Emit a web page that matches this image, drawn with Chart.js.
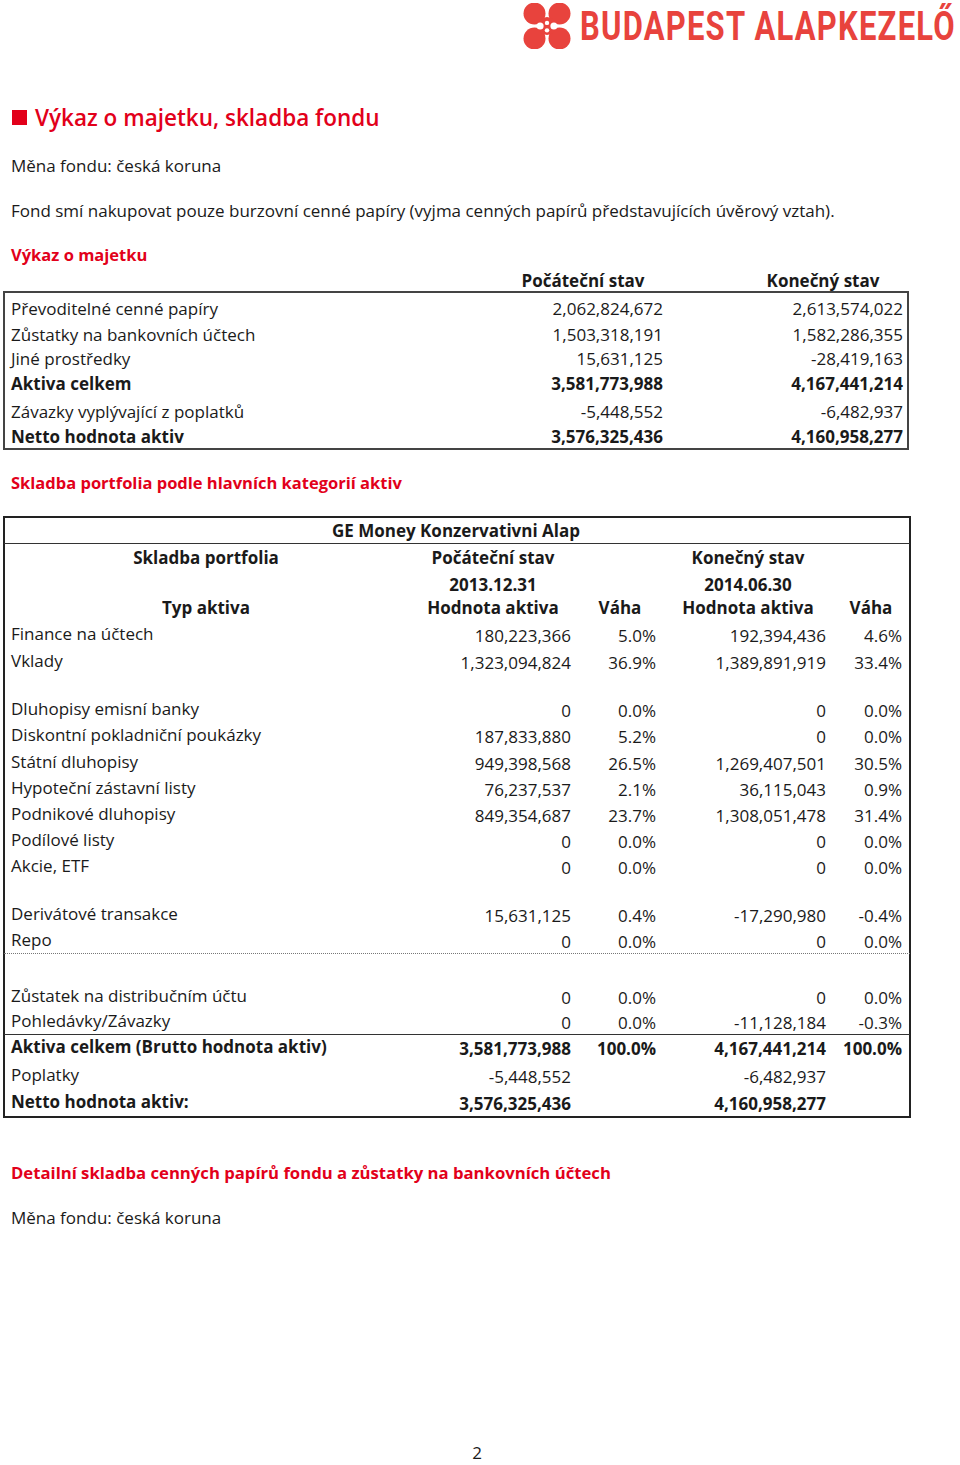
<!DOCTYPE html>
<html lang="cs">
<head>
<meta charset="utf-8">
<script src="https://cdn.jsdelivr.net/npm/chart.js@4.4.1/dist/chart.umd.min.js"></script>
<style>
body{margin:0;background:#fff;}
#page{position:relative;width:960px;height:1465px;font-family:"Open Sans",sans-serif;font-size:17px;color:#1a1a1a;overflow:hidden;}
.t{position:absolute;white-space:nowrap;line-height:20px;}
.b{font-weight:bold;}
.sb{font-weight:600;}
.red{color:#e2001a;}
.box{position:absolute;box-sizing:border-box;}
.hl{position:absolute;height:0;}
#logo{position:absolute;left:522px;top:3px;}
#brand{position:absolute;left:580px;top:6px;font-family:Roboto,sans-serif;font-weight:bold;font-size:31px;line-height:31px;
  color:#e8433d;white-space:nowrap;transform:scaleY(1.3);transform-origin:0 0;}
</style>
</head>
<body>
<div id="page">
  <canvas id="logo" width="50" height="46"></canvas>
  <div id="brand">BUDAPEST ALAPKEZELŐ</div>
</div>
<script>
// --- vykaz o majetku ---
const vykazLabels = ['Převoditelné cenné papíry', 'Zůstatky na bankovních účtech', 'Jiné prostředky',
    'Aktiva celkem', 'Závazky vyplývající z poplatků', 'Netto hodnota aktiv'];
const vykazStart = [2062824672, 1503318191, 15631125, 3581773988, -5448552, 3576325436];
const vykazEnd = [2613574022, 1582286355, -28419163, 4167441214, -6482937, 4160958277];

// --- skladba portfolia ---
const typAktiva = ['Finance na účtech', 'Vklady', 'Dluhopisy emisní banky', 'Diskontní pokladniční poukázky',
    'Státní dluhopisy', 'Hypoteční zástavní listy', 'Podnikové dluhopisy', 'Podílové listy', 'Akcie, ETF',
    'Derivátové transakce', 'Repo', 'Zůstatek na distribučním účtu', 'Pohledávky/Závazky',
    'Aktiva celkem (Brutto hodnota aktiv)', 'Poplatky', 'Netto hodnota aktiv:'];
const hodnotaStart = [180223366, 1323094824, 0, 187833880, 949398568, 76237537, 849354687, 0, 0,
    15631125, 0, 0, 0, 3581773988, -5448552, 3576325436];
const vahaStart = [5.0, 36.9, 0.0, 5.2, 26.5, 2.1, 23.7, 0.0, 0.0, 0.4, 0.0, 0.0, 0.0, 100.0, null, null];
const hodnotaEnd = [192394436, 1389891919, 0, 0, 1269407501, 36115043, 1308051478, 0, 0,
    -17290980, 0, 0, -11128184, 4167441214, -6482937, 4160958277];
const vahaEnd = [4.6, 33.4, 0.0, 0.0, 30.5, 0.9, 31.4, 0.0, 0.0, -0.4, 0.0, 0.0, -0.3, 100.0, null, null];
const datumStart = '2013.12.31';
const datumEnd = '2014.06.30';
const fondName = 'GE Money Konzervativni Alap';

const page = document.getElementById('page');

// stretch/squeeze the brand text to its width in the picture
const brand = document.getElementById('brand');
const brandW = brand.getBoundingClientRect().width;
brand.style.letterSpacing = ((376 - brandW) / 19).toFixed(2) + 'px';

function put(x, y, s, opts) {
    opts = opts || {};
    const d = document.createElement('div');
    d.className = 't' + (opts.cls ? ' ' + opts.cls : '');
    d.textContent = s;
    d.style.top = (y - 10) + 'px';
    if (opts.size) d.style.fontSize = opts.size + 'px';
    if (opts.align === 'right') {
        d.style.right = (960 - x) + 'px';
    } else if (opts.align === 'center') {
        d.style.left = (x - 250) + 'px';
        d.style.width = '500px';
        d.style.textAlign = 'center';
    } else {
        d.style.left = x + 'px';
    }
    page.appendChild(d);
}
function box(x, y, w, h, border) {
    const d = document.createElement('div');
    d.className = 'box';
    d.style.cssText = 'left:' + x + 'px;top:' + y + 'px;width:' + w + 'px;height:' + h + 'px;border:' + border;
    page.appendChild(d);
}
function hline(x, y, w, border) {
    const d = document.createElement('div');
    d.className = 'hl';
    d.style.cssText = 'left:' + x + 'px;top:' + y + 'px;width:' + w + 'px;border-top:' + border;
    page.appendChild(d);
}
const num = v => v.toLocaleString('en-US');
const pct = v => v.toFixed(1) + '%';

// headings
box(12, 110, 15, 15, '0; background:#e2001a');
put(35, 118, 'Výkaz o majetku, skladba fondu', {cls: 'red sb', size: 22.5});
put(11, 166, 'Měna fondu: česká koruna');
put(11, 211, 'Fond smí nakupovat pouze burzovní cenné papíry (vyjma cenných papírů představujících úvěrový vztah).');
put(11, 255, 'Výkaz o majetku', {cls: 'red b', size: 16.5});

// table 1
put(583, 281, 'Počáteční stav', {cls: 'b', align: 'center'});
put(823, 281, 'Konečný stav', {cls: 'b', align: 'center'});
box(3, 291, 906, 159, '2px solid #444');
const t1y = [309, 335, 359, 384, 412, 437];
vykazLabels.forEach((lab, i) => {
    const cls = (i === 3 || i === 5) ? 'b' : '';
    put(11, t1y[i], lab, {cls: cls});
    put(663, t1y[i], num(vykazStart[i]), {cls: cls, align: 'right'});
    put(903, t1y[i], num(vykazEnd[i]), {cls: cls, align: 'right'});
});

put(11, 483, 'Skladba portfolia podle hlavních kategorií aktiv', {cls: 'red b', size: 16.5});

// table 2
box(3, 516, 908, 602, '2px solid #222');
hline(4, 543, 906, '1px solid #333');
put(456, 531, fondName, {cls: 'b', align: 'center'});
put(206, 558, 'Skladba portfolia', {cls: 'b', align: 'center'});
put(493, 558, 'Počáteční stav', {cls: 'b', align: 'center'});
put(748, 558, 'Konečný stav', {cls: 'b', align: 'center'});
put(493, 585, datumStart, {cls: 'b', align: 'center'});
put(748, 585, datumEnd, {cls: 'b', align: 'center'});
put(206, 608, 'Typ aktiva', {cls: 'b', align: 'center'});
put(493, 608, 'Hodnota aktiva', {cls: 'b', align: 'center'});
put(620, 608, 'Váha', {cls: 'b', align: 'center'});
put(748, 608, 'Hodnota aktiva', {cls: 'b', align: 'center'});
put(871, 608, 'Váha', {cls: 'b', align: 'center'});

const t2y = [634, 661, 709, 735, 762, 788, 814, 840, 866, 914, 940, 996, 1021, 1047, 1075, 1102];
typAktiva.forEach((lab, i) => {
    const cls = (i === 13 || i === 15) ? 'b' : '';
    const yv = t2y[i] + 2;
    put(11, t2y[i], lab, {cls: cls});
    put(571, yv, num(hodnotaStart[i]), {cls: cls, align: 'right'});
    put(826, yv, num(hodnotaEnd[i]), {cls: cls, align: 'right'});
    if (vahaStart[i] !== null) put(656, yv, pct(vahaStart[i]), {cls: cls, align: 'right'});
    if (vahaEnd[i] !== null) put(902, yv, pct(vahaEnd[i]), {cls: cls, align: 'right'});
});
hline(4, 953, 906, '1px dotted #777');
hline(4, 1034, 906, '1px solid #333');

put(11, 1173, 'Detailní skladba cenných papírů fondu a zůstatky na bankovních účtech', {cls: 'red b', size: 16.7});
put(11, 1218, 'Měna fondu: česká koruna');
put(477, 1453, '2', {align: 'center'});

// logo mark, four lobes drawn as bubbles
const logoRed = '#e8433d';
const logoPts = [
    {x: -1, y: 1, r: 11}, {x: 1, y: 1, r: 11}, {x: -1, y: -1, r: 11}, {x: 1, y: -1, r: 11},
    {x: 0, y: 0, r: 9},
    {x: -0.55, y: 0, r: 3.5}, {x: 0.55, y: 0, r: 3.5}, {x: 0, y: 0.25, r: 2.2}, {x: 0, y: -0.35, r: 2.2}
];
const logoColors = [logoRed, logoRed, logoRed, logoRed, logoRed, '#fff', '#fff', '#fff', '#fff'];
new Chart(document.getElementById('logo').getContext('2d'), {
    type: 'bubble',
    data: {
        datasets: [{
            data: logoPts,
            backgroundColor: logoColors,
            borderWidth: 0,
            clip: false
        }]
    },
    options: {
        responsive: false,
        animation: false,
        layout: {padding: 0, autoPadding: false},
        plugins: {legend: {display: false}, tooltip: {enabled: false}},
        scales: {
            x: {display: false, min: -2, max: 2},
            y: {display: false, min: -1.85, max: 1.85}
        }
    }
});
</script>
</body>
</html>
